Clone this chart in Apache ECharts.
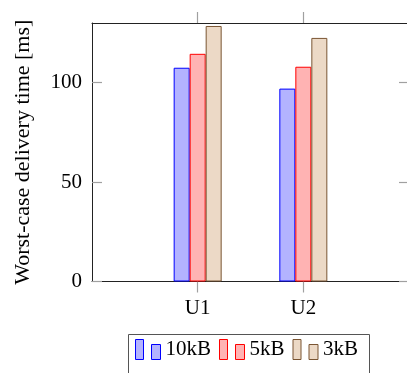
<!DOCTYPE html>
<html>
<head>
<meta charset="utf-8">
<script src="https://cdn.jsdelivr.net/npm/echarts@6/dist/echarts.min.js"></script>
<style>html,body{margin:0;padding:0;background:#fff;}#c{width:407px;height:373px;}</style>
</head>
<body>
<div id="c"></div>
<script>
const categories = ['U1', 'U2'];
const seriesNames = ['10kB', '5kB', '3kB'];
const values10kB = [107.5, 97];
const values5kB = [114.5, 108];
const values3kB = [128.5, 122.5];
const yTicks = [0, 50, 100];

const FONT = 'Liberation Serif';
const fills = ['#b3b3ff', '#ffb3b3', '#ecd9c6'];
const strokes = ['#0000ff', '#ff0000', '#7a5533'];
const axisCats = [''].concat(categories, ['']);
const isCat = (i) => i > 0 && i <= categories.length;
const pad = (arr) => [null].concat(arr, [null]);
const allValues = [values10kB, values5kB, values3kB];

const chart = echarts.init(document.getElementById('c'), null, {renderer: 'canvas'});
const icon = 'path://M0,0L8,0L8,20L0,20Z M16,5L25,5L25,20L16,20Z';
const tickStyle = {color: '#a0a0a0', width: 1.2};
chart.setOption({
  animation: false,
  grid: {left: 92, top: 23, width: 317, height: 258.5, containLabel: false, outerBoundsMode: 'none'},
  xAxis: [{
    type: 'category', data: axisCats, boundaryGap: false, position: 'bottom',
    axisLine: {show: true, onZero: false, lineStyle: {color: '#222', width: 1}},
    axisTick: {show: true, inside: false, length: 11, interval: (i) => isCat(i), lineStyle: tickStyle},
    axisLabel: {interval: (i) => isCat(i), margin: 16, fontFamily: FONT, fontSize: 21, color: '#000'},
    splitLine: {show: false}
  }, {
    type: 'category', data: axisCats, boundaryGap: false, position: 'top',
    axisLine: {show: true, onZero: false, lineStyle: {color: '#222', width: 1}},
    axisTick: {show: true, inside: false, length: 11, interval: (i) => isCat(i), lineStyle: tickStyle},
    axisLabel: {show: false}, splitLine: {show: false}
  }],
  yAxis: [{
    type: 'value', min: 0, max: 130, interval: 50, position: 'left',
    name: 'Worst-case delivery time [ms]', nameLocation: 'middle', nameGap: 58,
    nameTextStyle: {fontFamily: FONT, fontSize: 22, color: '#000'},
    axisLine: {show: true, onZero: false, lineStyle: {color: '#222', width: 1}},
    axisTick: {show: true, inside: true, length: 10, customValues: yTicks, lineStyle: tickStyle},
    axisLabel: {margin: 10, fontFamily: FONT, fontSize: 21, color: '#000', customValues: yTicks},
    splitLine: {show: false}
  }, {
    type: 'value', min: 0, max: 130, interval: 50, position: 'right',
    axisLine: {show: true, onZero: false, lineStyle: {color: '#222', width: 1}},
    axisTick: {show: true, inside: true, length: 10, customValues: yTicks, lineStyle: tickStyle},
    axisLabel: {show: false}, splitLine: {show: false}
  }],
  legend: {
    left: 135, top: 339, padding: 0, itemGap: 8, itemWidth: 25, itemHeight: 20,
    icon: icon, selectedMode: false,
    textStyle: {fontFamily: FONT, fontSize: 21, color: '#000', padding: [6, 0, 0, 0]},
    data: seriesNames.map((n, i) => ({name: n, itemStyle: {color: fills[i], borderColor: strokes[i], borderWidth: 1}}))
  },
  graphic: [{
    type: 'rect', shape: {x: 128.5, y: 334.5, width: 241, height: 60},
    style: {fill: 'none', stroke: '#555', lineWidth: 1}, silent: true
  }],
  series: seriesNames.map((n, i) => ({
    name: n, type: 'bar', xAxisIndex: 0, yAxisIndex: 0,
    data: pad(allValues[i]), barWidth: 16, barGap: '0%',
    itemStyle: {color: fills[i], borderColor: strokes[i], borderWidth: 1}
  }))
});
</script>
</body>
</html>
